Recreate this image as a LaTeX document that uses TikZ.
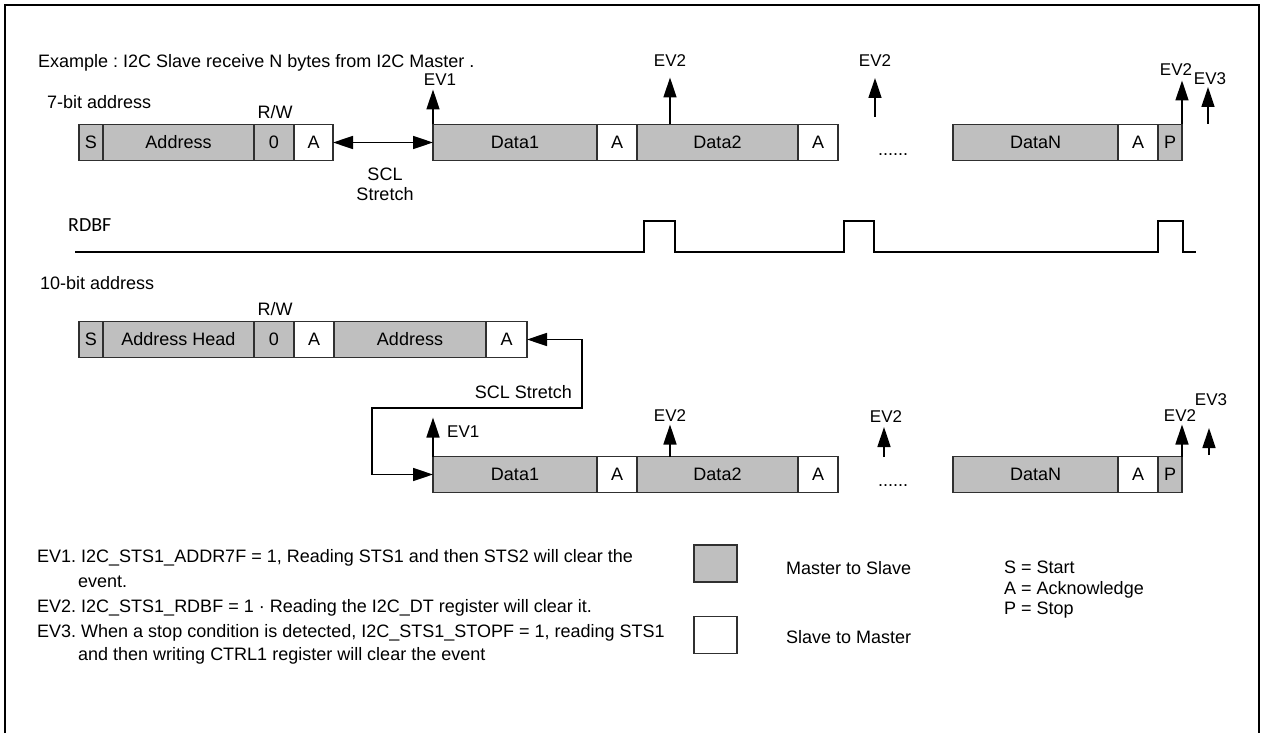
\documentclass[tikz,border=0pt]{standalone}
\usepackage{fontspec}
\setmainfont{Liberation Sans}
\newfontfamily\rdbffont{Carlito}
\usetikzlibrary{arrows.meta,positioning,calc}
\definecolor{mgray}{HTML}{BFBFBF}
\definecolor{edge}{HTML}{303030}
\newcommand{\boxfont}{\fontsize{18}{20}\selectfont}
\newcommand{\evfont}{\fontsize{17}{20}\selectfont}
\frenchspacing
\tikzset{mbox/.style={draw=edge,fill=mgray,line width=1.2pt,outer sep=0pt,inner sep=0pt,
  minimum height=36pt,font=\boxfont},
  sbox/.style={mbox,fill=white},
  txt/.style={inner sep=0pt,font=\boxfont},
  evtxt/.style={inner sep=0pt,font=\evfont},
  evarrow/.style={-{Triangle[length=20pt,width=13pt]},line width=1.6pt},
  stretch/.style={{Triangle[length=20pt,width=13pt]}-{Triangle[length=20pt,width=13pt]},line width=1.6pt}}

\begin{document}
\begin{tikzpicture}[x=1pt,y=-1pt]
\useasboundingbox (0,0) rectangle (1265,733);
\draw[line width=2.5pt] (5,733) -- (5,5) -- (1259,5) -- (1259,733);
\node[txt,anchor=base west] (title) at (38,68) {Example : I2C Slave receive N bytes from I2C Master .};
\node[txt,anchor=base west] (bit7) at (47,108.5) {7-bit address};
\node[txt,anchor=base] (rw1) at (275,118.5) {R/W};
\node[mbox,minimum width=24pt,anchor=west] (s1) at (79,142.5) {S};
\node[mbox,minimum width=151pt,right=0pt of s1] (addr1) {Address};
\node[mbox,minimum width=40pt,right=0pt of addr1] (zero1) {0};
\node[sbox,minimum width=39pt,right=0pt of zero1] (ack1) {A};
\node[mbox,minimum width=164pt,anchor=west] (data1) at (433,142.5) {Data1};
\node[sbox,minimum width=40pt,right=0pt of data1] (acka) {A};
\node[mbox,minimum width=161pt,right=0pt of acka] (data2) {Data2};
\node[sbox,minimum width=40pt,right=0pt of data2] (ackb) {A};
\node[txt,anchor=base] (dots1) at (893,155) {......};
\node[mbox,minimum width=165pt,anchor=west] (datan) at (953,142.5) {DataN};
\node[sbox,minimum width=40pt,right=0pt of datan] (ackn) {A};
\node[mbox,minimum width=24pt,right=0pt of ackn] (stop1) {P};
\draw[stretch] (ack1.east) -- (data1.west);
\node[txt,align=center] (scl1) at (385,184.5) {SCL\\Stretch};
\draw[evarrow] (data1.north west) -- ++(0,-35);
\node[evtxt] (ev1a) at (440,80) {EV1};
\draw[evarrow] ($(data2.north west)+(33,0)$) -- ++(0,-47);
\node[evtxt] (ev2a) at (670,61) {EV2};
\coordinate (ev2bt) at (875,117);
\draw[evarrow] (ev2bt) -- ++(0,-39);
\node[evtxt] (ev2b) at (875,61) {EV2};
\draw[evarrow] (stop1.north east) -- ++(0,-44);
\node[evtxt] (ev2c) at (1176,70) {EV2};
\coordinate (ev3t) at (1208,124);
\draw[evarrow] (ev3t) -- ++(0,-37);
\node[evtxt] (ev3a) at (1210,79) {EV3};

\node[anchor=base west,inner sep=0pt,font=\rdbffont\fontsize{20}{24}\selectfont] (rdbf) at (68,231.5) {RDBF};
\draw[line width=1.6pt] (75,252) -- (644,252) -- (644,221) -- (675,221) -- (675,252)
  -- (844,252) -- (844,221) -- (874,221) -- (874,252) -- (1158,252) -- (1158,221)
  -- (1183,221) -- (1183,252) -- (1196,252);

\node[txt,anchor=base west] (bit10) at (40,289.5) {10-bit address};
\node[txt,anchor=base] (rw2) at (275,315.5) {R/W};
\node[mbox,minimum width=24pt,anchor=west] (s2) at (79,339.5) {S};
\node[mbox,minimum width=151pt,right=0pt of s2] (head2) {Address Head};
\node[mbox,minimum width=40pt,right=0pt of head2] (zero2) {0};
\node[sbox,minimum width=40pt,right=0pt of zero2] (ack2) {A};
\node[mbox,minimum width=152pt,right=0pt of ack2] (addr2) {Address};
\node[sbox,minimum width=41pt,right=0pt of addr2] (ack2b) {A};

\node[mbox,minimum width=164pt,anchor=west] (data3) at (433,474.5) {Data1};
\node[sbox,minimum width=40pt,right=0pt of data3] (ackc) {A};
\node[mbox,minimum width=161pt,right=0pt of ackc] (data4) {Data2};
\node[sbox,minimum width=40pt,right=0pt of data4] (ackd) {A};
\node[txt,anchor=base] (dots2) at (893,486) {......};
\node[mbox,minimum width=165pt,anchor=west] (datan2) at (953,474.5) {DataN};
\node[sbox,minimum width=40pt,right=0pt of datan2] (ackn2) {A};
\node[mbox,minimum width=24pt,right=0pt of ackn2] (stop2) {P};
\draw[stretch] (ack2b.east) -| (582,408) -| (372,474.5) -- (data3.west);
\node[txt,anchor=base east] (scl2) at (572,398.5) {SCL Stretch};
\draw[evarrow] (data3.north west) -- ++(0,-39);
\node[evtxt,anchor=west] (ev1b) at (447,432) {EV1};
\draw[evarrow] ($(data4.north west)+(33,0)$) -- ++(0,-32);
\node[evtxt] (ev2d) at (670,416) {EV2};
\coordinate (ev2et) at (884,457);
\draw[evarrow] (ev2et) -- ++(0,-30);
\node[evtxt] (ev2e) at (886,417) {EV2};
\draw[evarrow] (stop2.north east) -- ++(0,-32);
\node[evtxt] (ev2f) at (1180,416) {EV2};
\coordinate (ev3bt) at (1209,455);
\draw[evarrow] (ev3bt) -- ++(0,-27);
\node[evtxt] (ev3b) at (1211,400) {EV3};

\node[txt,anchor=base west] (note1) at (37,562.5) {EV1. I2C\_STS1\_ADDR7F = 1, Reading STS1 and then STS2 will clear the};
\node[txt,anchor=base west] (note1b) at (78,587.5) {event.};
\node[txt,anchor=base west] (note2) at (37,612.5) {EV2. I2C\_STS1\_RDBF = 1 · Reading the I2C\_DT register will clear it.};
\node[txt,anchor=base west] (note3) at (37,637.5) {EV3. When a stop condition is detected, I2C\_STS1\_STOPF = 1, reading STS1};
\node[txt,anchor=base west] (note3b) at (78,660.5) {and then writing CTRL1 register will clear the event};
\node[mbox,minimum width=43pt,minimum height=37pt] (keyms) at (715.5,563.5) {};
\node[sbox,minimum width=43pt,minimum height=37pt] (keysm) at (715.5,635) {};
\node[txt,anchor=base west] (keymst) at (786,574.5) {Master to Slave};
\node[txt,anchor=base west] (keysmt) at (786,643.5) {Slave to Master};
\node[txt,anchor=base west] (abbs) at (1004,573.5) {S = Start};
\node[txt,anchor=base west] (abba) at (1004,594) {A = Acknowledge};
\node[txt,anchor=base west] (abbp) at (1004,614.5) {P = Stop};
\end{tikzpicture}
\end{document}
